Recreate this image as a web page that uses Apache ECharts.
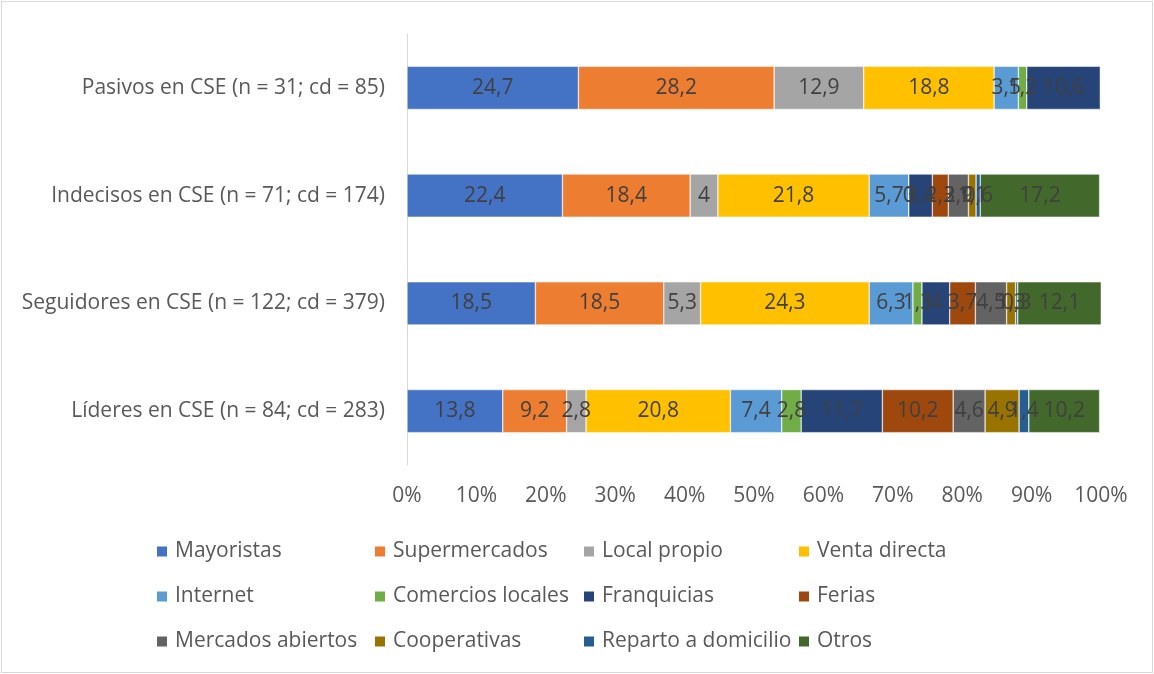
<!DOCTYPE html>
<html>
<head>
<meta charset="utf-8">
<script src="https://cdn.jsdelivr.net/npm/echarts@6/dist/echarts.min.js"></script>
<style>
  html, body { margin: 0; padding: 0; background: #fff; }
  #chart { position: absolute; left: 1px; top: 1px; width: 1150px; height: 670px; border: 1px solid #d9d9d9; }
</style>
</head>
<body>
<div id="chart"></div>
<script>
const categories = [
  "Pasivos en CSE (n = 31; cd = 85)",
  "Indecisos en CSE (n = 71; cd = 174)",
  "Seguidores en CSE (n = 122; cd = 379)",
  "Líderes en CSE (n = 84; cd = 283)"
];
const seriesNames = [
  "Mayoristas", "Supermercados", "Local propio", "Venta directa",
  "Internet", "Comercios locales", "Franquicias", "Ferias",
  "Mercados abiertos", "Cooperativas", "Reparto a domicilio", "Otros"
];
// one array per series, values in order of categories
const mayoristas = [24.7, 22.4, 18.5, 13.8];
const supermercados = [28.2, 18.4, 18.5, 9.2];
const localPropio = [12.9, 4, 5.3, 2.8];
const ventaDirecta = [18.8, 21.8, 24.3, 20.8];
const internet = [3.5, 5.7, 6.3, 7.4];
const comerciosLocales = [1.2, 0, 1.3, 2.8];
const franquicias = [10.6, 3.4, 4, 11.7];
const ferias = [null, 2.3, 3.7, 10.2];
const mercadosAbiertos = [null, 2.9, 4.5, 4.6];
const cooperativas = [null, 1.1, 1.3, 4.9];
const reparto = [null, 0.6, 0.3, 1.4];
const otros = [null, 17.2, 12.1, 10.2];
const xTicks = [0, 10, 20, 30, 40, 50, 60, 70, 80, 90, 100];

const values = [mayoristas, supermercados, localPropio, ventaDirecta, internet, comerciosLocales,
  franquicias, ferias, mercadosAbiertos, cooperativas, reparto, otros];
const colors = ["#4472C4", "#ED7D31", "#A5A5A5", "#FFC000", "#5B9BD5", "#70AD47",
  "#264478", "#9E480E", "#636363", "#997300", "#255E91", "#43682B"];

const font = "Open Sans";
const fontSize = 21;
const textColor = "#595959";

const chart = echarts.init(document.getElementById("chart"));

// Excel puts the legend in aligned columns, so one vertical legend per column
const legendCols = [0, 1, 2, 3].map(c => ({
  orient: "vertical",
  left: [148, 366, 575, 790][c],
  top: 534,
  itemGap: 24,
  itemWidth: 12,
  itemHeight: 12,
  icon: "rect",
  data: [seriesNames[c], seriesNames[c + 4], seriesNames[c + 8]],
  textStyle: { fontFamily: font, fontSize: fontSize, lineHeight: 21, color: textColor, padding: [0, 0, 0, 2] }
}));

chart.setOption({
  animation: false,
  color: colors,
  legend: legendCols,
  grid: { left: 405, right: 51, top: 32, bottom: 207 },
  xAxis: {
    type: "value",
    min: 0,
    max: 100,
    interval: 10,
    axisLine: { show: false },
    axisTick: { show: false },
    splitLine: { show: false },
    axisLabel: {
      margin: 21,
      fontFamily: font,
      fontSize: fontSize,
      color: textColor,
      formatter: v => xTicks.includes(v) ? v + "%" : ""
    }
  },
  yAxis: {
    type: "category",
    inverse: true,
    data: categories,
    axisLine: { show: true, lineStyle: { color: "#d9d9d9", width: 1 } },
    axisTick: { show: false },
    axisLabel: { margin: 22, fontFamily: font, fontSize: fontSize, color: textColor }
  },
  series: seriesNames.map((name, i) => ({
    name: name,
    type: "bar",
    stack: "total",
    barWidth: "40%",
    data: values[i],
    itemStyle: { color: colors[i], borderColor: "#fff", borderWidth: 0.5 },
    label: {
      show: true,
      position: "inside",
      fontFamily: font,
      fontSize: fontSize,
      color: "#404040",
      formatter: p => p.value == null ? "" : String(p.value).replace(".", ",")
    }
  }))
});
window.addEventListener("resize", () => chart.resize());
</script>
</body>
</html>
